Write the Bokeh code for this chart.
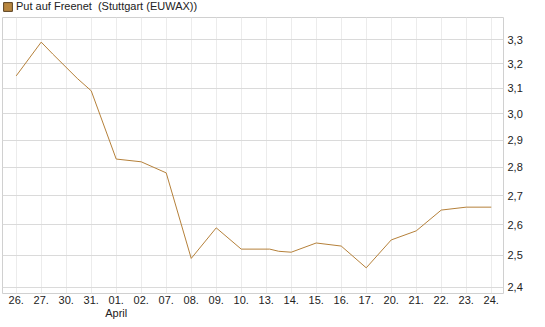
from bokeh.plotting import figure
from bokeh.layouts import column
from bokeh.models import (Range1d, FixedTicker, CustomJSTickFormatter, LinearAxis,
                          Legend, LegendItem)
from bokeh.embed import file_html
from bokeh.resources import INLINE

# ---- data ----
dates = ["26.", "27.", "30.", "31.", "01.", "02.", "07.", "08.", "09.", "10.",
         "13.", "14.", "15.", "16.", "17.", "20.", "21.", "22.", "23.", "24."]
months = {4: "April"}
# trading-day index (fractional values = intraday quotes) and price
x_idx = [0, 1, 1.46, 2.44, 3, 4, 5, 6, 7, 8, 9, 10.14, 10.5, 11, 12, 13, 14, 15, 16, 17, 18, 19]
prices = [3.15, 3.29, 3.24, 3.14, 3.09, 2.83, 2.82, 2.78, 2.49, 2.59, 2.52, 2.52, 2.513,
          2.51, 2.54, 2.53, 2.46, 2.55, 2.58, 2.65, 2.66, 2.66]
y_ticks = [2.4, 2.5, 2.6, 2.7, 2.8, 2.9, 3.0, 3.1, 3.2, 3.3]
series_name = "Put auf Freenet  (Stuttgart (EUWAX))"

FONT = "Liberation Sans"
LINE_COLOR = "#b5803a"

# ---- legend strip ----
top = figure(width=545, height=17, output_backend="svg", toolbar_location=None,
             x_range=Range1d(0, 1), y_range=Range1d(0, 1),
             x_axis_location=None, y_axis_location=None,
             min_border_left=0, min_border_right=0, min_border_top=0,
             min_border_bottom=0)
top.outline_line_color = None
top.xgrid.visible = False
top.ygrid.visible = False
sw = top.quad(left=[-5.0], right=[-5.0], top=[-5.0], bottom=[-5.0],
              fill_color="#b8863f", line_color="#5a4020", line_width=1)
legend = Legend(items=[LegendItem(label=series_name, renderers=[sw])],
                location="top_left", orientation="horizontal",
                glyph_width=11, glyph_height=11, label_height=11,
                label_standoff=3, padding=2, margin=0, spacing=0,
                border_line_color=None, background_fill_alpha=0,
                label_text_font=FONT, label_text_font_size="11px",
                label_text_color="#222222")
top.add_layout(legend, "center")

# ---- main chart ----
p = figure(width=545, height=310, y_axis_type="log", output_backend="svg",
           toolbar_location=None, x_range=Range1d(-0.548, 19.49),
           y_range=Range1d(2.380, 3.396), y_axis_location="right",
           min_border_left=2, min_border_right=42, min_border_top=0,
           min_border_bottom=34)

p.outline_line_color = "#d0d0d0"
p.background_fill_color = "white"
p.border_fill_color = "white"

p.xgrid.grid_line_color = "#ececec"
p.ygrid.grid_line_color = "#dadada"

xa = p.xaxis[0]
xa.ticker = FixedTicker(ticks=list(range(len(dates))))
xa.major_label_overrides = {i: d for i, d in enumerate(dates)}
xa.axis_line_color = None
xa.major_tick_line_color = None
xa.minor_tick_line_color = None
xa.major_tick_out = 0
xa.major_tick_in = 0
xa.major_label_standoff = 2
xa.major_label_text_font = FONT
xa.major_label_text_font_size = "11px"
xa.major_label_text_color = "#222222"

ma = LinearAxis(ticker=FixedTicker(ticks=list(months.keys())),
                major_label_overrides=dict(months))
ma.axis_line_color = None
ma.major_tick_line_color = None
ma.minor_tick_line_color = None
ma.major_tick_out = 0
ma.major_tick_in = 0
ma.major_label_standoff = 0
ma.major_label_text_font = FONT
ma.major_label_text_font_size = "11px"
ma.major_label_text_color = "#222222"
p.add_layout(ma, "below")

ya = p.yaxis[0]
ya.ticker = FixedTicker(ticks=y_ticks)
ya.formatter = CustomJSTickFormatter(code="return tick.toFixed(1).replace('.', ',');")
ya.axis_line_color = None
ya.major_tick_line_color = None
ya.minor_tick_line_color = None
ya.major_tick_out = 0
ya.major_tick_in = 0
ya.major_label_standoff = 4
ya.major_label_text_font = FONT
ya.major_label_text_font_size = "11px"
ya.major_label_text_color = "#222222"

p.line(x_idx, prices, line_color=LINE_COLOR, line_width=1)

layout = column(top, p, spacing=0)
open("out.html", "w").write(file_html(layout, INLINE))
